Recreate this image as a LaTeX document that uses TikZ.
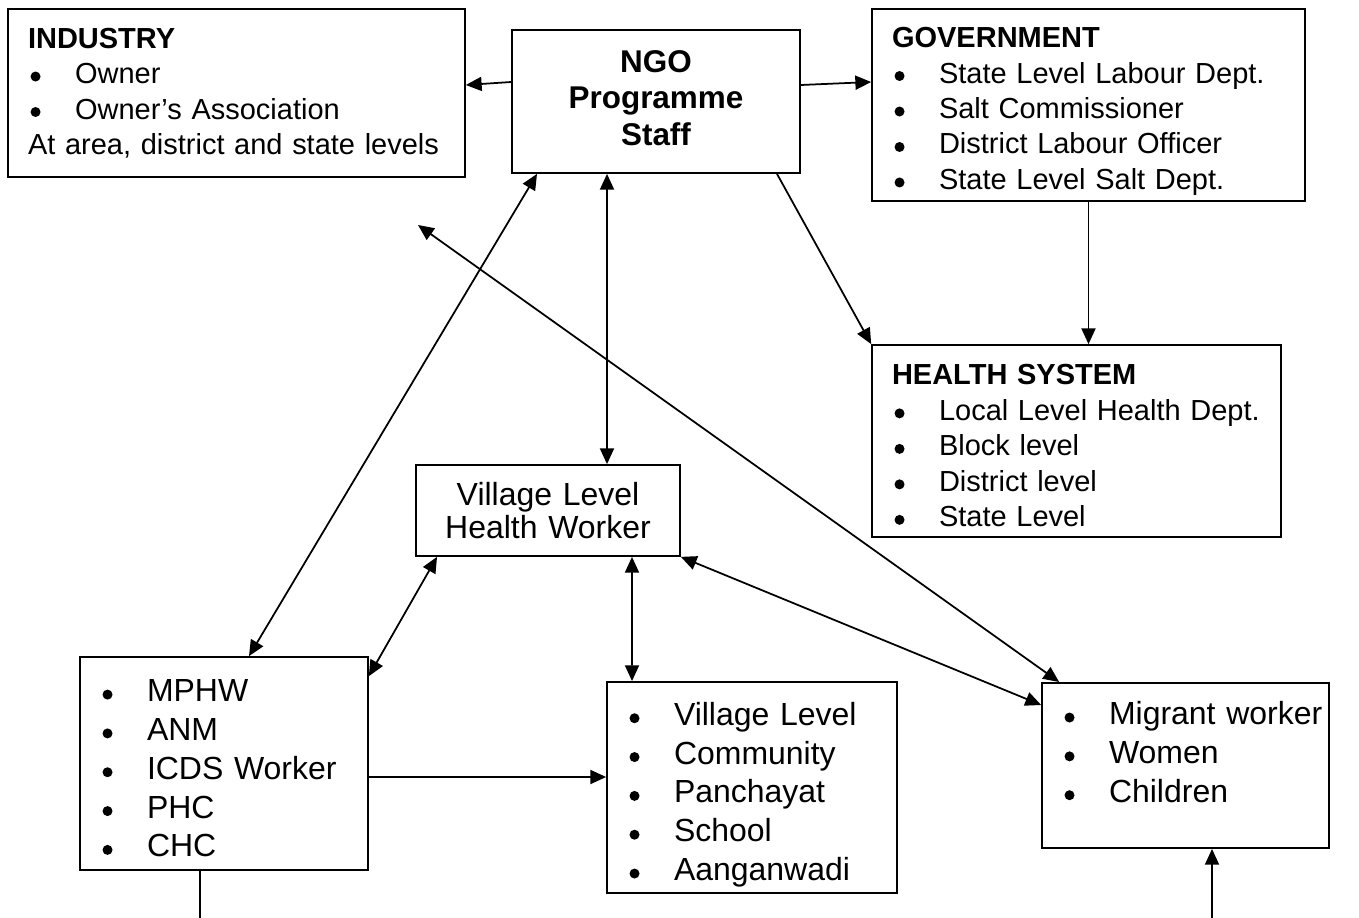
\documentclass[tikz,border=0pt]{standalone}
\usepackage{fontspec}
\setmainfont{Liberation Sans}
\usepackage{tikz}
\usetikzlibrary{arrows.meta}

\newcommand{\bul}{\makebox[0.94cm][l]{\hspace{0.05cm}\raisebox{0.04cm}{\tikz\fill (0,0) circle (0.1cm);}}}

\begin{document}
\begin{tikzpicture}[
    x=0.02cm, y=-0.02cm,
    box/.style={rectangle, draw, line width=1pt, inner xsep=0.4cm, align=left},
    small/.style={font=\fontsize{16.5pt}{20.2pt}\selectfont},
    large/.style={font=\fontsize{18.2pt}{22.1pt}\selectfont},
    >={Stealth[inset=0pt, length=9pt, width=8pt]},
    line width=1pt
]
\useasboundingbox (0,0) rectangle (1359,918);

\node[box, small, text width=8.34cm, minimum height=3.36cm] (industry) at (236.5,93)
    {\textbf{INDUSTRY}\\\bul Owner\\\bul Owner’s Association\\At area, district and state levels};
\node[box, align=center, text width=4.96cm, minimum height=2.86cm, text height=8.5pt,
      font=\fontsize{17.9pt}{20.8pt}\selectfont\bfseries] (ngo) at (656,101.5)
    {NGO\\Programme\\Staff};
\node[box, small, text width=7.86cm, minimum height=3.84cm, text height=18.8pt] (gov) at (1088.5,105)
    {\textbf{GOVERNMENT}\\\bul State Level Labour Dept.\\\bul Salt Commissioner\\\bul District Labour Officer\\\bul State Level Salt Dept.};
\node[box, small, text width=7.38cm, minimum height=3.84cm, text height=17.1pt] (health) at (1076.5,441)
    {\textbf{HEALTH SYSTEM}\\\bul Local Level Health Dept.\\\bul Block level\\\bul District level\\\bul State Level};
\node[box, align=center, text width=4.48cm, minimum height=1.82cm,
      font=\fontsize{18.2pt}{18.8pt}\selectfont] (vlhw) at (548,510.5)
    {Village Level\\Health Worker};
\node[box, large, text width=4.96cm, minimum height=4.26cm, text height=18.1pt] (mphw) at (224,763.5)
    {\bul MPHW\\\bul ANM\\\bul ICDS Worker\\\bul PHC\\\bul CHC};
\node[box, large, text width=5.0cm, minimum height=4.22cm, text height=21.3pt] (village) at (752,787.5)
    {\bul Village Level\\\bul Community\\\bul Panchayat\\\bul School\\\bul Aanganwadi};
\node[box, large, text width=4.94cm, inner ysep=0.37cm, text depth=2.1cm, anchor=north] (migrant) at (1185.5,682)
    {\bul \mbox{Migrant worker}\\\bul Women\\\bul Children};

\coordinate (loose) at (418,225);
\coordinate (leftend) at (200,918);
\coordinate (rightend) at (1212,918);

\draw[->] ([yshift=0.39cm]ngo.west) -- ([yshift=0.16cm]industry.east);
\draw[->] ([yshift=0.33cm]ngo.east) -- ([yshift=0.46cm]gov.west);
\draw[<->] ([xshift=-0.98cm]ngo.south) -- ([xshift=1.18cm]vlhw.north);
\draw[<->] ([xshift=-2.38cm]ngo.south) -- ([xshift=0.5cm]mphw.north);
\draw[->] ([xshift=2.42cm]ngo.south) -- (health.north west);
\draw[->] (gov.south) -- (gov.south |- health.north);
\draw[<->] (loose) -- ([xshift=0.36cm]migrant.north west);
\draw[<->] ([xshift=-2.22cm]vlhw.south) -- ([yshift=-0.4cm]mphw.north east);
\draw[<->] ([xshift=1.68cm]vlhw.south) -- ([xshift=-2.4cm]village.north);
\draw[<->] (vlhw.south east) -- ([yshift=-0.46cm]migrant.north west);
\draw[->] ([yshift=-0.27cm]mphw.east) -- ([yshift=0.21cm]village.west);
\draw (leftend |- mphw.south) -- (leftend);
\draw[->] (rightend) -- (rightend |- migrant.south);

\end{tikzpicture}
\end{document}
